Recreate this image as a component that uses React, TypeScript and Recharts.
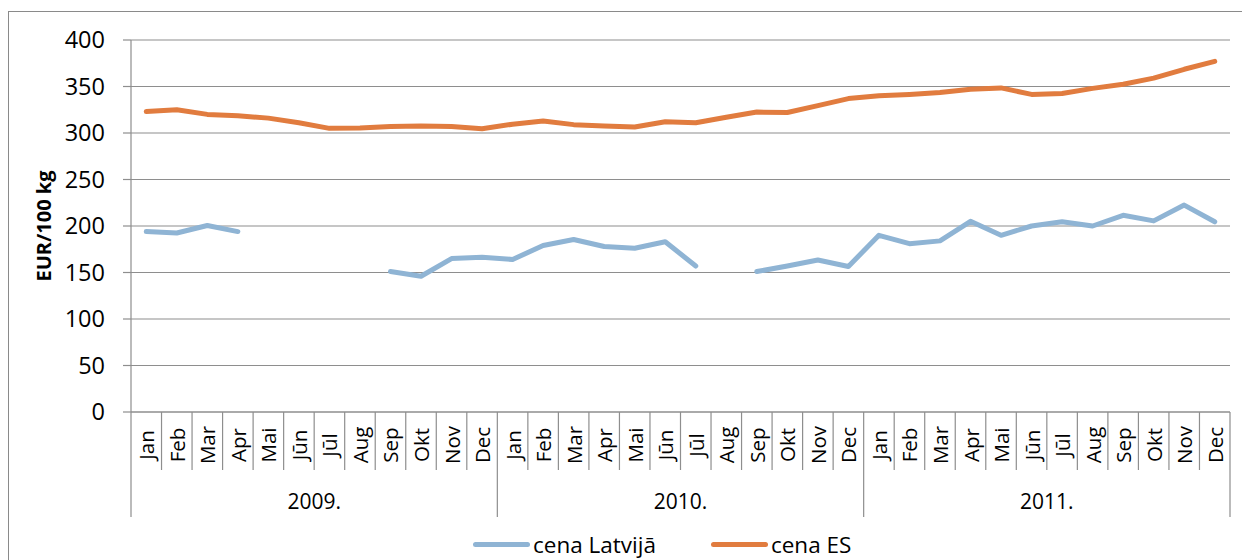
import React from 'react';
import { LineChart, Line, XAxis, YAxis, CartesianGrid, Legend } from 'recharts';

const months = ['Jan', 'Feb', 'Mar', 'Apr', 'Mai', 'Jūn', 'Jūl', 'Aug', 'Sep', 'Okt', 'Nov', 'Dec'];
const years = ['2009.', '2010.', '2011.'];
const yTicks = [0, 50, 100, 150, 200, 250, 300, 350, 400];
const seriesNames = ['cena Latvijā', 'cena ES'];

const cenaLatvija: (number | null)[] = [
  194, 192.5, 200.5, 194, null, null, null, null, 151, 146, 165, 166.5,
  164, 179, 185.5, 178, 176, 183, 157, null, 151, 157, 163.5, 156.5,
  190, 181, 184, 205, 190, 200, 204.5, 200, 211.5, 205.5, 222.5, 204.5,
];
const cenaES: number[] = [
  323, 325, 320, 318.5, 316, 311, 305, 305.5, 307, 307.5, 307, 304.5,
  309.5, 313, 309, 307.5, 306.5, 312, 311, 317, 322.5, 322, 329.5, 337,
  340, 341.5, 343.5, 347, 348.5, 341.5, 342.5, 348, 352.5, 359, 368.5, 377,
];

const data = cenaES.map((es, i) => ({
  key: `${years[Math.floor(i / 12)]}-${months[i % 12]}`,
  month: months[i % 12],
  year: years[Math.floor(i / 12)],
  lv: cenaLatvija[i],
  es,
}));

const W = 1242;
const H = 560;
const MARGIN = { top: 40, right: 12, bottom: 38, left: 8 };
const YAXIS_W = 123;
const XAXIS_H = 110;
const PLOT_W = W - MARGIN.left - YAXIS_W - MARGIN.right;
const HALF_BAND = PLOT_W / data.length / 2;

const GRID = '#8e8e8e';
const BLUE = '#8fb4d4';
const ORANGE = '#e17c3f';
const FONT = '"Open Sans", "Noto Sans", sans-serif';

const MonthTick = (props: any) => {
  const { x, y, index } = props;
  const i: number = index;
  const d = data[i] || data[0];
  return (
    <g>
      <line x1={x - HALF_BAND} x2={x - HALF_BAND} y1={y} y2={y + (i % 12 === 0 ? 105 : 58)} stroke={GRID} strokeWidth={1.2} />
      {i === data.length - 1 && (
        <line x1={x + HALF_BAND} x2={x + HALF_BAND} y1={y} y2={y + 105} stroke={GRID} strokeWidth={1.2} />
      )}
      <text
        transform={`translate(${x},${y + 33}) rotate(-90)`}
        textAnchor="middle"
        dominantBaseline="central"
        fontSize={20.5}
        fontFamily={FONT}
        fill="#000"
      >
        {d.month}
      </text>
      {i % 12 === 6 && (
        <text
          x={x - HALF_BAND}
          y={y + 89}
          textAnchor="middle"
          dominantBaseline="central"
          fontSize={21}
          fontFamily={FONT}
          fill="#000"
        >
          {d.year}
        </text>
      )}
    </g>
  );
};

const YLabel = (props: any) => {
  const vb = props.viewBox || { x: 0, y: 0, width: 0, height: 0 };
  const cx = vb.x + 35;
  const cy = vb.y + vb.height / 2;
  return (
    <text
      transform={`translate(${cx},${cy}) rotate(-90)`}
      textAnchor="middle"
      dominantBaseline="central"
      fontSize={20}
      fontWeight="bold"
      fontFamily={FONT}
      fill="#000"
    >
      EUR/100 kg
    </text>
  );
};

const LegendContent = (props: any) => {
  const payload = [...(props.payload || [])].sort(
    (a: any, b: any) => seriesNames.indexOf(a.value) - seriesNames.indexOf(b.value)
  );
  return (
    <div style={{ display: 'flex', alignItems: 'center', height: 30, fontFamily: FONT, fontSize: 22.5, color: '#000', whiteSpace: 'nowrap' }}>
      {payload.map((p: any, k: number) => (
        <div key={k} style={{ display: 'flex', alignItems: 'center', marginRight: k === 0 ? 55 : 0 }}>
          <span style={{ display: 'inline-block', width: 57, height: 5, borderRadius: 3, background: p.color, marginRight: 3 }} />
          <span>{p.value}</span>
        </div>
      ))}
    </div>
  );
};

export default function App() {
  return (
    <div style={{ position: 'absolute', left: 0, top: 0, width: W, height: H, overflow: 'hidden', background: '#fff' }}>
      <div style={{ position: 'absolute', left: 0, top: 0 }}>
        <LineChart width={W} height={H} data={data} margin={MARGIN}>
          <CartesianGrid horizontal vertical={false} stroke={GRID} strokeWidth={1.2} />
          <XAxis
            dataKey="key"
            type="category"
            interval={0}
            height={XAXIS_H}
            padding={{ left: HALF_BAND, right: HALF_BAND }}
            tickSize={0}
            tickMargin={0}
            tickLine={false}
            axisLine={{ stroke: GRID, strokeWidth: 1.2 }}
            tick={<MonthTick />}
          />
          <YAxis
            width={YAXIS_W}
            domain={[0, 400]}
            ticks={yTicks}
            interval={0}
            tickSize={8}
            tickMargin={18}
            axisLine={{ stroke: GRID, strokeWidth: 1.2 }}
            tickLine={{ stroke: GRID, strokeWidth: 1.2 }}
            tick={{ fontSize: 23.5, fontFamily: FONT, fill: '#000' }}
            label={<YLabel />}
          />
          <Legend
            layout="horizontal"
            verticalAlign="middle"
            align="center"
            content={<LegendContent />}
            wrapperStyle={{ top: 529, left: 473, width: 'auto', height: 30 }}
          />
          <Line
            name={seriesNames[0]}
            dataKey="lv"
            stroke={BLUE}
            strokeWidth={5}
            strokeLinecap="round"
            strokeLinejoin="round"
            dot={false}
            activeDot={false}
            connectNulls={false}
            isAnimationActive={false}
          />
          <Line
            name={seriesNames[1]}
            dataKey="es"
            stroke={ORANGE}
            strokeWidth={5}
            strokeLinecap="round"
            strokeLinejoin="round"
            dot={false}
            activeDot={false}
            isAnimationActive={false}
          />
        </LineChart>
      </div>
      <div style={{ position: 'absolute', left: 8, top: 11, width: 1400, height: 800, border: '1px solid #8a8a8a', pointerEvents: 'none' }} />
    </div>
  );
}
